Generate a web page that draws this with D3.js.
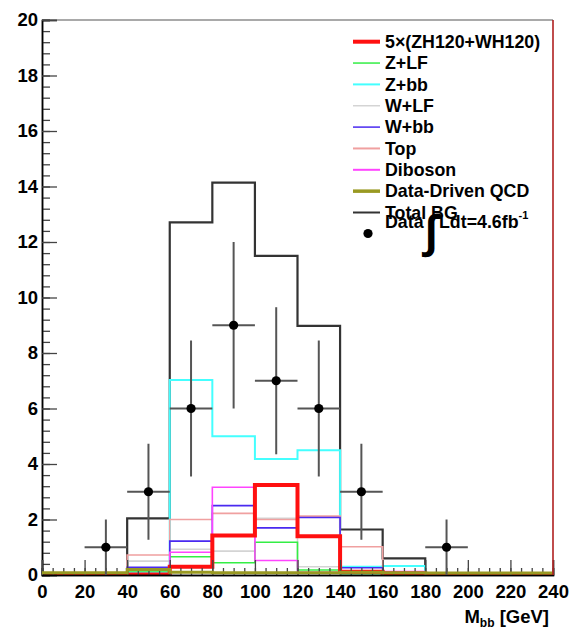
<!DOCTYPE html>
<html>
<head>
<meta charset="utf-8">
<script src="https://cdn.jsdelivr.net/npm/d3@7"></script>
<style>
  html, body { margin: 0; padding: 0; background: #fff; }
  svg { display: block; }
  text { font-family: "Liberation Sans", Arial, Helvetica, sans-serif; font-weight: bold; fill: #000; }
</style>
</head>
<body>
<svg id="chart" width="571" height="630"></svg>
<script>
// ---- data (12 bins of 20 GeV, 0..240) ----
const binEdges = [0, 20, 40, 60, 80, 100, 120, 140, 160, 180, 200, 220, 240];
const signal5x = [0, 0, 0.02, 0.3, 1.42, 3.24, 1.4, 0.12, 0.05, 0, 0, 0];
const zLF      = [0, 0, 0.15, 0.66, 0.44, 1.18, 0.18, 0.05, 0.03, 0, 0, 0];
const zBB      = [0, 0, 0.1, 7.03, 5.0, 4.18, 4.5, 0.3, 0.32, 0, 0, 0];
const wLF      = [0, 0, 0.5, 0.93, 0.86, 2.04, 0.3, 0.1, 0.05, 0, 0, 0];
const wBB      = [0, 0, 0.28, 1.22, 2.5, 1.7, 2.07, 0.26, 0.1, 0, 0, 0];
const topQuark = [0, 0, 0.72, 2.0, 2.22, 2.0, 2.12, 1.02, 0.1, 0.02, 0, 0];
const diboson  = [0, 0, 0.03, 0.82, 3.16, 0.52, 0.1, 0.12, 0.12, 0, 0, 0];
const qcd      = [0.08, 0.08, 0.2, 0.1, 0.08, 0.08, 0.08, 0.1, 0.08, 0.07, 0.07, 0.07];
const totalBG  = [0.04, 0.04, 2.04, 12.71, 14.14, 11.5, 8.98, 1.64, 0.6, 0.07, 0.07, 0.0];

const dataX    = [30, 50, 70, 90, 110, 130, 150, 190];
const dataY    = [1, 3, 6, 9, 7, 6, 3, 1];
const dataErr  = [1, 1.73, 2.45, 3, 2.65, 2.45, 1.73, 1];
const dataHalfWidth = 10;

const xTicks = [0, 20, 40, 60, 80, 100, 120, 140, 160, 180, 200, 220, 240];
const yTicks = [0, 2, 4, 6, 8, 10, 12, 14, 16, 18, 20];

const legendLabels = ["5\u00d7(ZH120+WH120)", "Z+LF", "Z+bb", "W+LF", "W+bb", "Top", "Diboson", "Data-Driven QCD", "Total BG"];
const legendColors = ["#ff1010", "#33ee44", "#44ffff", "#d4d4d4", "#4a2af0", "#f0a0a0", "#ff44ff", "#999922", "#333333"];
const legendWidths = [4, 1.5, 2, 1.5, 1.5, 2, 2, 3.5, 2];

// ---- layout ----
const svg = d3.select("#chart");
const x = d3.scaleLinear().domain([0, 240]).range([42, 553]);
const y = d3.scaleLinear().domain([0, 20]).range([575, 20]);

svg.append("defs").append("clipPath").attr("id", "plotclip")
  .append("rect").attr("x", x(0)).attr("y", y(20)).attr("width", x(240) - x(0)).attr("height", y(0) - y(20));

// frame (top + right)
svg.append("line").attr("x1", x(0)).attr("x2", x(240)).attr("y1", y(20)).attr("y2", y(20))
  .attr("stroke", "#555").attr("stroke-width", 1.2);

// histogram step paths
function stepPoints(vals) {
  const pts = [];
  vals.forEach((v, i) => { pts.push([binEdges[i], v]); pts.push([binEdges[i + 1], v]); });
  return pts;
}
const line = d3.line().x(d => x(d[0])).y(d => y(d[1]));
const hists = [
  {v: totalBG, c: legendColors[8], w: 2.2},
  {v: zBB, c: legendColors[2], w: 2},
  {v: wLF, c: legendColors[3], w: 1.6},
  {v: topQuark, c: legendColors[5], w: 1.6},
  {v: zLF, c: legendColors[1], w: 1.6},
  {v: wBB, c: legendColors[4], w: 1.6},
  {v: diboson, c: legendColors[6], w: 1.6},
  {v: signal5x, c: legendColors[0], w: 4}
];
const hg = svg.append("g").attr("clip-path", "url(#plotclip)");
hists.forEach(h => {
  hg.append("path").attr("d", line(stepPoints(h.v)))
    .attr("fill", "none").attr("stroke", h.c).attr("stroke-width", h.w)
    .attr("stroke-linejoin", "miter");
});

// axes
const yMinor = d3.range(0, 20.001, 0.4);
const xMinor = d3.range(0, 240.001, 5);
const gy = svg.append("g").attr("transform", `translate(${x(0)},0)`);
gy.call(d3.axisLeft(y).tickValues(yMinor).tickSize(-8).tickFormat(""));
const gy2 = svg.append("g").attr("transform", `translate(${x(0)},0)`);
gy2.call(d3.axisLeft(y).tickValues(yTicks).tickSize(-15).tickPadding(5).tickFormat(d3.format("d")));
const gx = svg.append("g").attr("transform", `translate(0,${y(0)})`);
gx.call(d3.axisBottom(x).tickValues(xMinor).tickSize(-7).tickFormat(""));
const gx2 = svg.append("g").attr("transform", `translate(0,${y(0)})`);
gx2.call(d3.axisBottom(x).tickValues(xTicks).tickSize(-15).tickPadding(8).tickFormat(d3.format("d")));
[gx, gy, gx2, gy2].forEach(g => {
  g.selectAll(".domain").attr("stroke", "#000").attr("stroke-width", 1.5);
  g.selectAll(".tick line").attr("stroke", "#444").attr("stroke-width", 1.3);
  g.selectAll("text").attr("font-size", 18.5).attr("font-weight", "bold")
    .attr("font-family", "'Liberation Sans', Arial, sans-serif").attr("fill", "#000");
});
gy2.selectAll(".tick text").attr("x", -4);
gx2.selectAll(".tick text").attr("y", 10);

// QCD drawn above the axis line
svg.append("path").attr("d", line(stepPoints(qcd)))
  .attr("fill", "none").attr("stroke", legendColors[7]).attr("stroke-width", 3);

// right frame edge
svg.append("line").attr("x1", x(240)).attr("x2", x(240)).attr("y1", y(20)).attr("y2", y(0))
  .attr("stroke", "#b02020").attr("stroke-width", 1.6);

// axis title
const xt = svg.append("text").attr("x", 549).attr("y", 623).attr("text-anchor", "end").attr("font-size", 18.5);
xt.append("tspan").text("M");
xt.append("tspan").attr("font-size", 12).attr("dy", 4).text("bb");
xt.append("tspan").attr("dy", -4).text(" [GeV]");

// data points with error bars
const dg = svg.append("g");
dataX.forEach((dx, i) => {
  dg.append("line").attr("x1", x(dx - dataHalfWidth)).attr("x2", x(dx + dataHalfWidth))
    .attr("y1", y(dataY[i])).attr("y2", y(dataY[i])).attr("stroke", "#555").attr("stroke-width", 2);
  dg.append("line").attr("x1", x(dx)).attr("x2", x(dx))
    .attr("y1", y(Math.max(0, dataY[i] - dataErr[i]))).attr("y2", y(dataY[i] + dataErr[i]))
    .attr("stroke", "#555").attr("stroke-width", 2);
  dg.append("circle").attr("cx", x(dx)).attr("cy", y(dataY[i])).attr("r", 4.6).attr("fill", "#000");
});

// legend
const lg = svg.append("g");
const ly0 = 41.7, ldy = 21.35;
legendLabels.forEach((lab, i) => {
  const yy = ly0 + i * ldy;
  lg.append("line").attr("x1", 353).attr("x2", 380).attr("y1", yy).attr("y2", yy)
    .attr("stroke", legendColors[i]).attr("stroke-width", legendWidths[i]);
  lg.append("text").attr("x", 385).attr("y", yy + 6.3).attr("font-size", 17.8).text(lab);
});
lg.append("circle").attr("cx", 368).attr("cy", 233.5).attr("r", 4.6).attr("fill", "#000");
lg.append("text").attr("x", 385).attr("y", 228).attr("font-size", 17.8).text("Data");
lg.append("text").attr("x", 425).attr("y", 247).attr("font-size", 46).attr("font-weight", "normal")
  .attr("font-family", "'DejaVu Sans', sans-serif").text("\u222b");
const lt = lg.append("text").attr("x", 439).attr("y", 228).attr("font-size", 17.8);
lt.append("tspan").text("Ldt=4.6fb");
lt.append("tspan").attr("font-size", 11).attr("dy", -9).text("-1");
</script>
</body>
</html>
